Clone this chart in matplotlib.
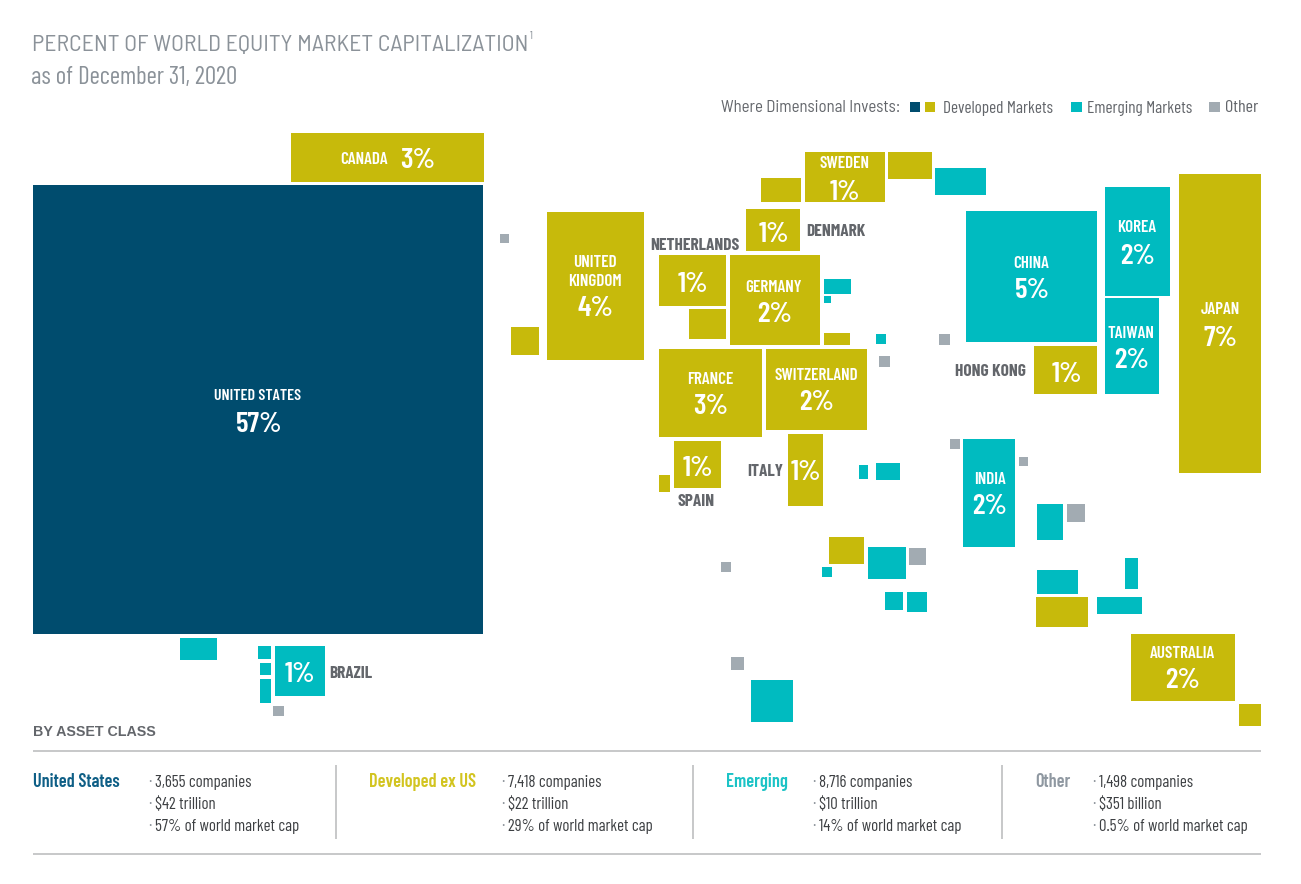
import matplotlib
matplotlib.use('Agg')
import matplotlib.pyplot as plt

plt.rcParams['font.family'] = ['Barlow Condensed', 'DejaVu Sans']
SEMI = ['Barlow Semi Condensed', 'DejaVu Sans']

NAVY = '#004C6E'
OLIVE = '#C7BA0B'
TEAL = '#00BBC0'
GREY = '#A2ABB2'
TITLE_GREY = '#8B9299'
LABEL_GREY = '#63666B'
DARK = '#3C3F42'
RULE = '#BDBFC0'

# boxes of the cartogram (pixels)
box_left = [33, 291, 547, 511, 500, 746, 659, 689, 730, 824, 824, 824, 876, 879, 659, 766, 674, 659, 788,
            859, 876, 805, 888, 935, 761, 966, 1105, 1105, 1034, 1179, 939, 950, 963, 1019, 1037, 1067,
            1037, 1036, 1125, 1097, 1131, 1239, 829, 868, 909, 822, 721, 885, 907, 731, 751, 180, 258,
            260, 260, 275, 273]
box_top = [185, 133, 212, 327, 234, 209, 255, 309, 255, 279, 296, 333, 334, 356, 349, 349, 441, 475, 434,
           465, 463, 152, 152, 168, 178, 211, 187, 298, 346, 174, 334, 439, 439, 457, 504, 504,
           570, 597, 558, 597, 634, 704, 537, 547, 548, 567, 562, 592, 592, 657, 680, 638, 646,
           663, 679, 646, 706]
box_width = [450, 193, 97, 28, 9, 54, 67, 37, 90, 27, 7, 26, 10, 11, 103, 101, 47, 11, 35,
             9, 24, 80, 44, 51, 40, 131, 65, 54, 63, 82, 11, 10, 52, 9, 26, 18,
             41, 52, 13, 45, 104, 22, 35, 38, 17, 10, 10, 18, 20, 13, 42, 37, 13,
             11, 11, 50, 11]
box_height = [449, 49, 148, 28, 9, 42, 51, 30, 90, 15, 7, 12, 10, 11, 88, 81, 47, 17, 72,
              14, 17, 50, 27, 27, 24, 131, 109, 96, 48, 299, 11, 10, 108, 9, 36, 18,
              24, 30, 31, 17, 67, 22, 27, 32, 17, 10, 10, 18, 20, 13, 42, 22, 13,
              12, 24, 50, 10]
box_color = [NAVY, OLIVE, OLIVE, OLIVE, GREY, OLIVE, OLIVE, OLIVE, OLIVE, TEAL, TEAL, OLIVE, TEAL, GREY,
             OLIVE, OLIVE, OLIVE, OLIVE, OLIVE, TEAL, TEAL, OLIVE, OLIVE, TEAL, OLIVE, TEAL, TEAL, TEAL,
             OLIVE, OLIVE, GREY, GREY, TEAL, GREY, TEAL, GREY, TEAL, OLIVE, TEAL, TEAL, OLIVE, OLIVE,
             OLIVE, TEAL, GREY, TEAL, GREY, TEAL, TEAL, GREY, TEAL, TEAL, TEAL, TEAL, TEAL, TEAL, GREY]

# country names and shares
white_names = ['UNITED STATES', 'CANADA', 'UNITED\nKINGDOM', 'SWEDEN', 'GERMANY', 'FRANCE', 'SWITZERLAND',
               'CHINA', 'KOREA', 'TAIWAN', 'JAPAN', 'INDIA', 'AUSTRALIA']
white_name_x = [258, 364, 595, 844, 774, 710, 816, 1031, 1137, 1131, 1220, 990, 1182]
white_name_y = [396, 159, 272, 163, 287, 379, 375, 264, 228, 333, 310, 480, 654]

share_text = ['57%', '3%', '4%', '1%', '1%', '1%', '2%', '3%', '2%', '1%', '1%', '5%', '2%', '2%', '1%', '7%',
              '2%', '2%', '1%']
share_x = [259, 418, 596, 845, 774, 693, 775, 711, 817, 698, 806, 1032, 1138, 1132, 1067, 1221, 990, 1183, 300]
share_y = [424, 161, 309, 192, 234, 284, 314, 407, 403, 468, 473, 291, 256, 360, 374, 338, 507, 681, 675]

grey_names = ['DENMARK', 'NETHERLANDS', 'HONG KONG', 'ITALY', 'SPAIN', 'BRAZIL']
grey_name_x = [836, 695, 990, 765, 696, 351]
grey_name_y = [231, 245, 371, 471, 501, 673]

# asset class table
class_names = ['United States', 'Developed ex US', 'Emerging', 'Other']
class_colors = ['#0F5F86', '#D2C420', '#1CC3C6', '#8F98A1']
class_x = [33, 369, 726, 1035]
bullet_x = [148, 501, 812, 1092]
companies = ['3,655 companies', '7,418 companies', '8,716 companies', '1,498 companies']
assets = ['$42 trillion', '$22 trillion', '$10 trillion', '$351 billion']
market_cap = ['57% of world market cap', '29% of world market cap', '14% of world market cap',
              '0.5% of world market cap']
divider_x = [336, 693, 1002]

legend_x = [910, 925, 1071, 1209]
legend_colors = [NAVY, OLIVE, TEAL, GREY]

fig = plt.figure(figsize=(13.01, 8.84), dpi=100)
ax = fig.add_axes([0, 0, 1, 1])
ax.set_xlim(0, 1301)
ax.set_ylim(884, 0)
ax.axis('off')

ax.bar(box_left, box_height, width=box_width, bottom=box_top, align='edge', color=box_color, linewidth=0)

for name, x, y in zip(white_names, white_name_x, white_name_y):
    size = 11.5 if name == 'UNITED STATES' else 12.3
    ax.text(x, y, name, color='white', fontsize=size, fontweight=600, ha='center', va='center', linespacing=1.35)
for share, x, y in zip(share_text, share_x, share_y):
    ax.text(x, y, share, color='white', fontsize=21, fontweight=600, ha='center', va='center')
for name, x, y in zip(grey_names, grey_name_x, grey_name_y):
    ax.text(x, y, name, color=LABEL_GREY, fontsize=12.5, fontweight=700, ha='center', va='center')

# heading
ax.text(32, 46, 'PERCENT OF WORLD EQUITY MARKET CAPITALIZATION', color=TITLE_GREY, fontsize=17.1, va='center',
        family=SEMI)
ax.text(530, 36, '1', color=TITLE_GREY, fontsize=8, va='center')
ax.text(31, 77, 'as of December 31, 2020', color=TITLE_GREY, fontsize=18, va='center')

# legend
ax.text(900, 108, 'Where Dimensional Invests:', color=LABEL_GREY, fontsize=12.1, ha='right', va='center', family=SEMI)
ax.bar(legend_x, [10] * 4, width=[10, 10, 11, 11], bottom=[102] * 4, align='edge', color=legend_colors, linewidth=0)
ax.text(943, 108, 'Developed Markets', color=LABEL_GREY, fontsize=12.4, va='center')
ax.text(1087, 108, 'Emerging Markets', color=LABEL_GREY, fontsize=12.4, va='center')
ax.text(1225, 108, 'Other', color=LABEL_GREY, fontsize=13, va='center')

# table
ax.text(33, 732, 'BY ASSET CLASS', color=LABEL_GREY, fontsize=10.3, fontweight='bold', va='center',
        family=['Liberation Sans', 'DejaVu Sans'])
ax.hlines([751, 854], 33, 1261, color=RULE, linewidth=1.2)
ax.vlines(divider_x, 765, 839, color=RULE, linewidth=1.2)
for i in range(len(class_names)):
    ax.text(class_x[i], 782, class_names[i], color=class_colors[i], fontsize=13.2, fontweight=600, va='center')
    for y, line in zip([782, 804, 826], [companies[i], assets[i], market_cap[i]]):
        ax.text(bullet_x[i], y, '·', color=TITLE_GREY, fontsize=12, va='center')
        ax.text(bullet_x[i] + 7, y, line, color=DARK, fontsize=12.1, va='center')

fig.savefig('out.png', dpi=100)
